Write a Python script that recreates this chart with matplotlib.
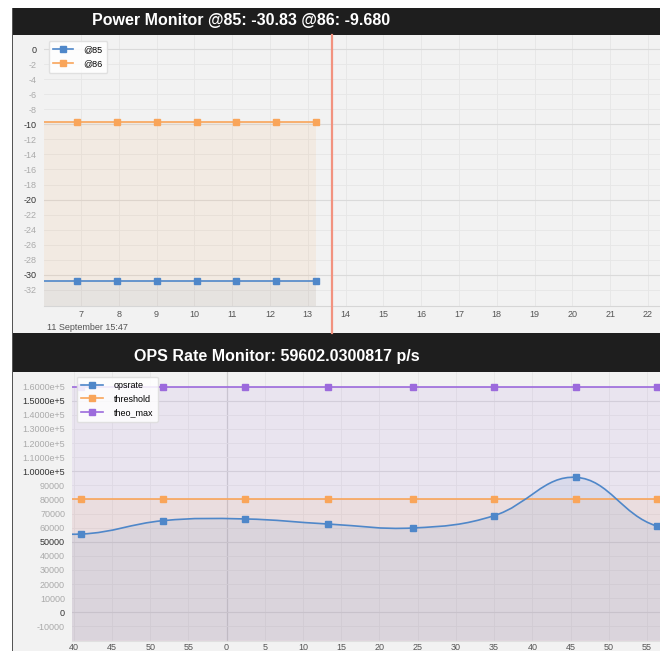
import numpy as np
import matplotlib
matplotlib.use("Agg")
import matplotlib.pyplot as plt
from matplotlib.patches import Rectangle, PathPatch
from matplotlib.path import Path
from matplotlib.lines import Line2D
from matplotlib.ticker import FuncFormatter

plt.rcParams["font.family"] = ["Liberation Sans", "DejaVu Sans"]
plt.rcParams["axes.unicode_minus"] = False

# ---- data: power monitor (seconds past 15:47, dBm) ----
pw_t = [5.84, 6.89, 7.95, 9.01, 10.07, 11.10, 12.16, 13.22]
pw_85 = [-30.83] * 8
pw_86 = [-9.68] * 8
pw_now = 13.64
pw_xticks = list(range(6, 23))

# ---- data: OPS rate monitor (seconds past 15:47) ----
ops_t = [30.25, 40.98, 51.71, 62.36, 73.26, 84.42, 94.98, 105.71, 116.27, 127.0]
ops_rate = [60000, 55500, 65000, 66200, 62600, 59800, 68500, 95700, 61200, 60000]
ops_thr = [80000] * 10
ops_max = [160000] * 10

BLUE, ORANGE, PURPLE = "#4f87c9", "#f9a55a", "#9c6bdc"
PANEL = "#f2f2f2"
W, H = 660, 651

fig = plt.figure(figsize=(W / 100, H / 100), dpi=100)
fig.patch.set_facecolor("white")


def frac(x0, y0, x1, y1):
    # pixel box (top-left origin) -> figure fraction rect
    return [x0 / W, 1 - y1 / H, (x1 - x0) / W, (y1 - y0) / H]


# background layer for panels and title bars
bg = fig.add_axes([0, 0, 1, 1], zorder=-5)
bg.set_xlim(0, W)
bg.set_ylim(H, 0)
bg.axis("off")


def rect(x0, y0, x1, y1, color):
    bg.add_patch(Rectangle((x0, y0), x1 - x0, y1 - y0, facecolor=color, edgecolor="none"))


rect(12, 35, 660, 333, PANEL)
rect(12, 372, 660, 651, PANEL)
rect(12, 8, 660, 35, "#1e1e1e")
rect(12, 333, 660, 372, "#1e1e1e")
rect(11.5, 8, 13, 651, "#555555")
bg.text(241.5, 21, "Power Monitor @85: -30.83 @86: -9.680", color="white",
        fontsize=11.5, fontweight="bold", ha="center", va="center")
bg.text(277, 356.5, "OPS Rate Monitor: 59602.0300817 p/s", color="white",
        fontsize=11.5, fontweight="bold", ha="center", va="center")


def style(ax):
    ax.set_facecolor(PANEL)
    for s in ax.spines.values():
        s.set_visible(False)
    ax.spines["bottom"].set_visible(True)
    ax.spines["bottom"].set_color("#d6d6d6")
    ax.tick_params(which="both", length=0, labelsize=6.5)
    ax.tick_params(axis="y", which="major", labelcolor="#333333", pad=5)
    ax.tick_params(axis="y", which="minor", labelcolor="#aaaaaa", pad=5)
    ax.tick_params(axis="x", which="both", labelcolor="#555555", pad=3)
    ax.grid(True, which="major", axis="y", color="#dadada", lw=0.8)
    ax.grid(True, which="minor", axis="y", color="#e6e6e6", lw=0.6)
    ax.grid(True, which="both", axis="x", color="#e6e6e6", lw=0.6)
    ax.set_axisbelow(True)


def series(ax, t, v, color, fill_alpha, floor):
    ax.fill_between(t, v, floor, color=color, alpha=fill_alpha, lw=0, zorder=1)
    ax.plot(t, v, color=color, lw=1.2, zorder=3)
    ax.plot(t, v, ls="none", marker="s", ms=4.2, color=color, zorder=4)


# ---------------- top: power monitor ----------------
ax1 = fig.add_axes(frac(44, 35, 660, 306))
ax1.set_yticks([0, -10, -20, -30])
ax1.set_yticks([v for v in range(-32, 1, 2) if v % 10], minor=True)
ax1.yaxis.set_minor_formatter(FuncFormatter(lambda v, p: f"{v:.0f}"))
ax1.set_xticks(pw_xticks)
ax1.set_xlim(6.02, 22.32)
ax1.set_ylim(-34.13, 1.86)
style(ax1)
series(ax1, pw_t, pw_86, ORANGE, 0.10, -34.13)
series(ax1, pw_t, pw_85, BLUE, 0.07, -34.13)
ax1.axvline(pw_now, color="#f2927f", lw=1.6, zorder=5, clip_on=False, ymin=-0.1)
ax1.text(6.1, -0.062, "11 September 15:47", transform=ax1.get_xaxis_transform(),
         fontsize=6.5, color="#555555", va="top", ha="left")
h1 = [Line2D([], [], color=c, lw=1.2, marker="s", ms=4.2) for c in (BLUE, ORANGE)]
ax1.legend(h1, ["@85", "@86"], loc="upper left", bbox_to_anchor=(0.0, 0.995),
           fontsize=6.5, handlelength=2.2, handletextpad=1.2, labelspacing=0.55,
           framealpha=0.85, edgecolor="#dddddd", borderpad=0.5)


# ---------------- bottom: OPS rate ----------------
ax2 = fig.add_axes(frac(72, 372, 660, 640.7))
ax2.set_yticks([0, 50000, 100000, 150000])
ax2.set_yticks([v for v in range(-10000, 160001, 10000) if v % 50000], minor=True)


def ops_fmt(v, p):
    return f"{v:.4e}".replace("e+05", "e+5") if v >= 100000 else f"{v:.0f}"


ax2.yaxis.set_major_formatter(FuncFormatter(ops_fmt))
ax2.yaxis.set_minor_formatter(FuncFormatter(ops_fmt))
ax2.set_xticks([60])
ax2.set_xticks([t for t in range(40, 120, 5) if t != 60], minor=True)
ax2.xaxis.set_major_formatter(FuncFormatter(lambda v, p: f"{int(round(v)) % 60}"))
ax2.xaxis.set_minor_formatter(FuncFormatter(lambda v, p: f"{int(round(v)) % 60}"))
ax2.set_xlim(39.77, 116.70)
ax2.set_ylim(-20140, 170400)
style(ax2)
ax2.tick_params(axis="x", which="both", pad=1.5)
ax2.grid(True, which="major", axis="x", color="#cfcfcf", lw=0.9)
ax2.spines["bottom"].set_color("#e0e0e0")

series(ax2, ops_t, ops_max, PURPLE, 0.10, -20140)
series(ax2, ops_t, ops_thr, ORANGE, 0.10, -20140)

# smooth opsrate curve (Chart.js-like bezier, tension 0.4) in display space
fig.canvas.draw()
pts = ax2.transData.transform(np.column_stack([ops_t, ops_rate]))
tension = 0.4
cps = []
for i in range(len(pts)):
    p0 = pts[max(i - 1, 0)]
    p1 = pts[i]
    p2 = pts[min(i + 1, len(pts) - 1)]
    d01 = np.hypot(*(p1 - p0))
    d12 = np.hypot(*(p2 - p1))
    s = d01 + d12 if d01 + d12 else 1
    cps.append((p1 - tension * d01 / s * (p2 - p0), p1 + tension * d12 / s * (p2 - p0)))
verts = [pts[0]]
codes = [Path.MOVETO]
for i in range(1, len(pts)):
    verts += [cps[i - 1][1], cps[i][0], pts[i]]
    codes += [Path.CURVE4] * 3
verts = ax2.transData.inverted().transform(np.array(verts))
ax2.add_patch(PathPatch(Path(verts, codes), facecolor="none", edgecolor=BLUE,
                        lw=1.2, zorder=3))
fill_verts = np.vstack([verts, [[ops_t[-1], -20140], [ops_t[0], -20140], verts[0]]])
fill_codes = codes + [Path.LINETO, Path.LINETO, Path.CLOSEPOLY]
ax2.add_patch(PathPatch(Path(fill_verts, fill_codes), facecolor=BLUE, alpha=0.10,
                        edgecolor="none", zorder=1))
ax2.plot(ops_t, ops_rate, ls="none", marker="s", ms=4.2, color=BLUE, zorder=4)

h2 = [Line2D([], [], color=c, lw=1.2, marker="s", ms=4.2) for c in (BLUE, ORANGE, PURPLE)]
ax2.legend(h2, ["opsrate", "threshold", "theo_max"], loc="upper left",
           bbox_to_anchor=(0.0, 1.0), fontsize=6.5, handlelength=2.4,
           handletextpad=1.2, labelspacing=0.5, framealpha=0.85,
           edgecolor="#dddddd", borderpad=0.5)

fig.savefig("out.png", dpi=100, facecolor=fig.get_facecolor())
